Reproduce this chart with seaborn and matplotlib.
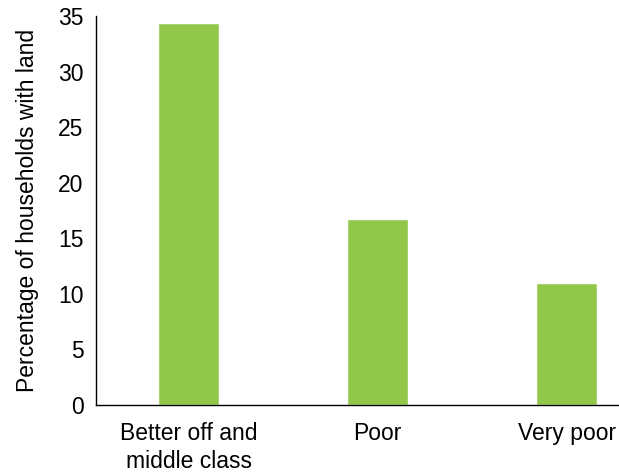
import matplotlib
matplotlib.use("Agg")
import matplotlib.pyplot as plt
import seaborn as sns
import pandas as pd

categories = ["Better off and\nmiddle class", "Poor", "Very poor"]
values = [34.4, 16.7, 11.0]
y_ticks = [0, 5, 10, 15, 20, 25, 30, 35]

sns.set_style("white")
plt.rcParams['font.family'] = ['Liberation Sans', 'DejaVu Sans']
plt.rcParams['text.color'] = 'black'
plt.rcParams['axes.labelcolor'] = 'black'
plt.rcParams['xtick.color'] = 'black'
plt.rcParams['ytick.color'] = 'black'

df = pd.DataFrame({"cat": categories, "val": values})

fig = plt.figure(figsize=(6.19, 4.74), dpi=100)
ax = fig.add_axes([0.155, 0.1456, 0.843, 0.8204])
sns.barplot(data=df, x="cat", y="val", color="#92C84A", width=0.32, saturation=1, ax=ax)

ax.set_ylim(0, 35)
ax.set_xlim(-0.49, 2.27)
ax.set_yticks(y_ticks)
ax.set_yticklabels([str(t) for t in y_ticks], fontsize=16.5)
ax.tick_params(axis='x', labelsize=16.5, length=0, pad=12)
ax.tick_params(axis='y', length=0, pad=9)
for lbl in ax.get_xticklabels():
    lbl.set_linespacing(1.3)
ax.set_xlabel("")
ax.set_ylabel("Percentage of households with land", fontsize=16.5, labelpad=14)
for s in ["top", "right"]:
    ax.spines[s].set_visible(False)
for s in ["left", "bottom"]:
    ax.spines[s].set_color("black")
    ax.spines[s].set_linewidth(1.0)
ax.grid(False)

fig.savefig("out.png", dpi=100)
